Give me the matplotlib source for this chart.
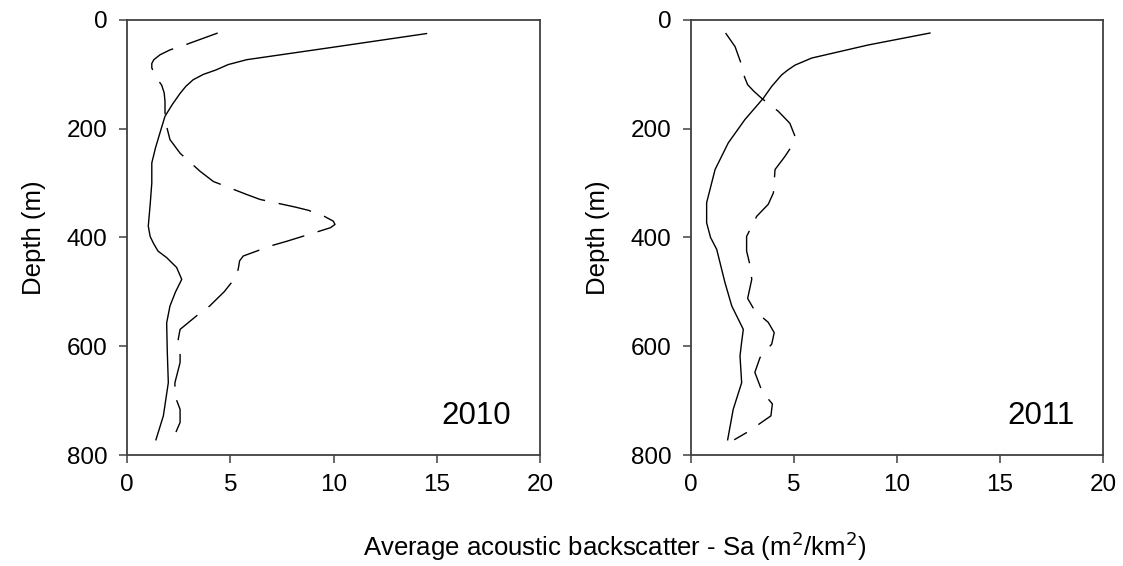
import matplotlib
matplotlib.use("Agg")
import matplotlib.pyplot as plt

plt.rcParams['font.family'] = ['Liberation Sans', 'DejaVu Sans']
plt.rcParams['lines.scale_dashes'] = False

# 2010 panel
depth_2010_solid = [25, 50, 73, 82, 92, 100, 110, 122, 135, 155, 177, 207, 235, 263, 300, 340, 379, 398, 410, 425,
                    437, 455, 477, 500, 526, 557, 610, 667, 728, 772]
sa_2010_solid = [14.5, 10.0, 5.8, 4.9, 4.3, 3.7, 3.2, 2.85, 2.57, 2.2, 1.84, 1.6, 1.38, 1.2, 1.2, 1.12, 1.03, 1.12, 1.27, 1.5,
                 1.92, 2.4, 2.65, 2.35, 2.08, 1.92, 1.95, 2.0, 1.76, 1.4]

depth_2010_dash = [24, 46, 55, 64, 73, 80, 88, 97, 107, 120, 134, 150, 171, 196, 220, 245, 278, 297, 321, 330, 344, 350, 360, 370, 376,
                   382, 388, 407, 415, 434, 443, 455, 471, 500, 526, 544, 569, 587, 606, 630, 667, 691, 716, 740, 772]
sa_2010_dash = [4.39, 2.8, 2.08, 1.6, 1.3, 1.2, 1.2, 1.3, 1.44, 1.68, 1.8, 1.84, 1.84, 1.92, 2.08, 2.57, 3.53, 4.18, 5.8, 6.44, 8.14, 8.78, 9.5, 9.99, 10.07,
                9.85, 9.35, 7.73, 7.0, 5.63, 5.45, 5.4, 5.31, 4.7, 4.0, 3.37, 2.57, 2.48, 2.57, 2.57, 2.32, 2.32, 2.57, 2.57, 2.21]

# 2011 panel
depth_2011_solid = [24, 46, 70, 83, 92, 101, 122, 144, 183, 226, 275, 336, 373, 400, 422, 483, 526, 569, 595, 618, 667, 716, 772]
sa_2011_solid = [11.6, 8.6, 5.86, 5.05, 4.7, 4.4, 3.92, 3.51, 2.62, 1.81, 1.17, 0.76, 0.76, 0.95, 1.25, 1.65, 1.98, 2.54, 2.45, 2.38, 2.46, 2.05, 1.78]

depth_2011_dash = [24, 49, 86, 105, 119, 131, 144, 168, 190, 214, 232, 251, 275, 318, 339, 361, 398, 425, 450, 477, 512,
                   535, 556, 575, 596, 621, 648, 684, 706, 728, 757, 772]
sa_2011_dash = [1.68, 2.14, 2.49, 2.6, 2.75, 3.05, 3.43, 4.24, 4.8, 5.05, 4.89, 4.56, 4.08, 4.0, 3.75, 3.19, 2.7, 2.7, 2.86, 2.95, 2.75,
                3.1, 3.75, 4.04, 3.92, 3.35, 3.1, 3.46, 3.95, 3.88, 2.78, 2.1]

x_ticks = [0, 5, 10, 15, 20]
y_ticks = [0, 200, 400, 600, 800]
panel_labels = ["2010", "2011"]

fig = plt.figure(figsize=(11.23, 5.66), dpi=100)
ax1 = fig.add_axes([0.1131, 0.1961, 0.3678, 0.7686])
ax2 = fig.add_axes([0.6153, 0.1961, 0.3669, 0.7686])

spine_col = '#404040'
data = [
    (ax1, sa_2010_solid, depth_2010_solid, sa_2010_dash, depth_2010_dash, panel_labels[0]),
    (ax2, sa_2011_solid, depth_2011_solid, sa_2011_dash, depth_2011_dash, panel_labels[1]),
]
for ax, xs, ys, xd, yd, lab in data:
    ax.plot(xs, ys, color='black', lw=1.0, solid_joinstyle='round')
    ax.plot(xd, yd, color='black', lw=1.0, linestyle=(0, (24, 10)), dash_joinstyle='round')
    ax.set_xlim(0, 20)
    ax.set_ylim(800, 0)
    ax.set_xticks(x_ticks)
    ax.set_yticks(y_ticks)
    ax.tick_params(direction='out', length=6, width=1.1, color=spine_col, labelsize=17.5, pad=8)
    for s in ax.spines.values():
        s.set_color(spine_col)
        s.set_linewidth(1.3)
    ax.set_ylabel("Depth (m)", fontsize=18.5, labelpad=15)
    ax.text(0.93, 0.09, lab, transform=ax.transAxes, ha='right', va='center', fontsize=22.5)

fig.text(615 / 1123, 0.035, "Average acoustic backscatter - Sa (m$^2$/km$^2$)", ha='center', va='center', fontsize=18.5)

fig.savefig("out.png", dpi=100)
